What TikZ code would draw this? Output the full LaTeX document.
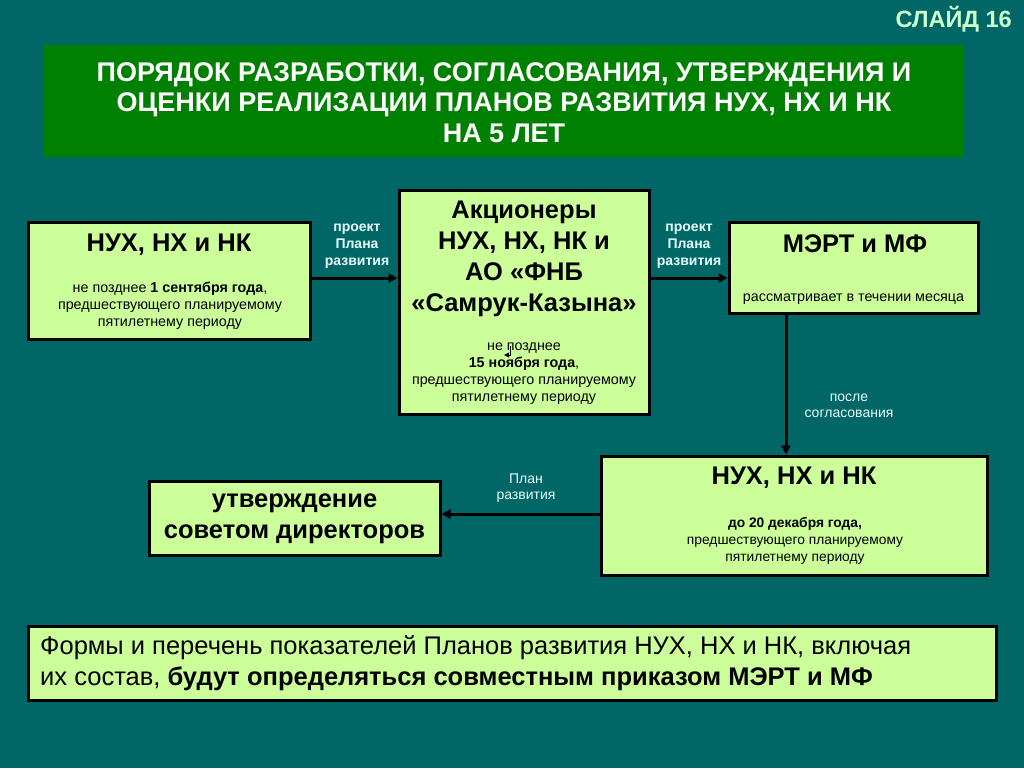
\documentclass[tikz,border=0pt]{standalone}
\usepackage{fontspec}
\setmainfont{Liberation Sans}
\usetikzlibrary{arrows.meta}
\definecolor{bg}{RGB}{0,102,102}
\definecolor{titlegreen}{RGB}{0,128,0}
\definecolor{boxfill}{RGB}{204,255,153}
\definecolor{labelcol}{RGB}{230,255,255}
\definecolor{slidecol}{RGB}{204,255,204}
\tikzset{
  box/.style={draw=black, line width=3pt, fill=boxfill, inner sep=0pt},
  boxtitle/.style={font=\bfseries\fontsize{25.5}{31}\selectfont, align=center, inner sep=0pt, text=black},
  boxsub/.style={font=\fontsize{14.3}{17}\selectfont, align=center, inner sep=0pt, text=black},
  lbl/.style={font=\fontsize{14}{16.5}\selectfont, align=center, inner sep=0pt, text=labelcol},
  conn/.style={draw=black, line width=3pt, -{Triangle[length=9pt,width=9pt]}},
}
\begin{document}
\begin{tikzpicture}[x=1pt,y=-1pt]
\fill[bg] (0,0) rectangle (1024,768);
\useasboundingbox (0,0) rectangle (1024,768);
% slide label
\node[font=\bfseries\fontsize{23.5}{24}\selectfont, text=slidecol, anchor=east, inner sep=0pt] (slide) at (1012,19) {СЛАЙД 16};
% title
\node[fill=titlegreen, minimum width=919pt, minimum height=112pt, inner sep=0pt] (titlebox) at (503.5,101) {};
\node[font=\bfseries\fontsize{27}{30.5}\selectfont, text=white, align=center, inner sep=0pt] (titletext) at (504,102.5)
 {ПОРЯДОК РАЗРАБОТКИ, СОГЛАСОВАНИЯ, УТВЕРЖДЕНИЯ И\\ОЦЕНКИ РЕАЛИЗАЦИИ ПЛАНОВ РАЗВИТИЯ НУХ, НХ И НК\\НА 5 ЛЕТ};
% box 1
\node[box, minimum width=282pt, minimum height=117pt] (b1) at (169,280.5) {};
\node[boxtitle] (b1t) at (169,245) {НУХ, НХ и НК};
\node[boxsub] (b1s) at (170,306) {не позднее \textbf{1 сентября года},\\предшествующего планируемому\\пятилетнему периоду};
% box 2
\node[box, minimum width=250pt, minimum height=224pt] (b2) at (524,302) {};
\node[boxtitle] (b2t) at (524,258.5) {Акционеры\\НУХ, НХ, НК и\\АО «ФНБ\\«Самрук-Казына»};
\node[boxsub] (b2s) at (524,373.5) {не позднее\\\textbf{15 ноября года},\\предшествующего планируемому\\пятилетнему периоду};
\coordinate (s1) at (510,346);
\coordinate (s2) at (504,355);
\draw[black, line width=0.8pt, -{Triangle[length=5pt,width=5pt]}] (s1) |- (s2);
% box 3
\node[box, minimum width=249pt, minimum height=91pt] (b3) at (853.5,267.5) {};
\node[boxtitle] (b3t) at (855,244) {МЭРТ и МФ};
\node[boxsub] (b3s) at (853.5,299) {рассматривает в течении месяца};
% box 4
\node[box, minimum width=386pt, minimum height=119pt] (b4) at (794,515.5) {};
\node[boxtitle] (b4t) at (794,478) {НУХ, НХ и НК};
\node[boxsub, font=\fontsize{13.8}{17}\selectfont] (b4s) at (795,541) {\textbf{до 20 декабря года,}\\предшествующего планируемому\\пятилетнему периоду};
% box 5
\node[box, minimum width=291pt, minimum height=74pt] (b5) at (294.5,518) {};
\node[boxtitle] (b5t) at (294.5,518.5) {утверждение\\советом директоров};
% bottom box
\node[box, minimum width=968pt, minimum height=74pt] (b6) at (512,663) {};
\node[font=\fontsize{25.5}{31}\selectfont, align=left, anchor=west, inner sep=0pt] (b6t) at (40,663.5)
 {Формы и перечень показателей Планов развития НУХ, НХ и НК, включая\\их состав, \textbf{будут определяться совместным приказом МЭРТ и МФ}};
% connectors
\draw[conn] (b1.east |- 0,278) -- (b2.west |- 0,278);
\draw[conn] (b2.east |- 0,278) -- (b3.west |- 0,278);
\draw[conn] (b3.south -| 786,0) -- (b4.north -| 786,0);
\draw[conn] (b4.west |- 0,514) -- (b5.east |- 0,514);
% labels
\node[lbl, font=\bfseries\fontsize{14}{17}\selectfont] (l1) at (357,246) {проект\\Плана\\развития};
\node[lbl, font=\bfseries\fontsize{14}{17}\selectfont] (l2) at (689,246) {проект\\Плана\\развития};
\node[lbl] (l3) at (849,406) {после\\согласования};
\node[lbl] (l4) at (526,488) {План\\развития};
\end{tikzpicture}
\end{document}
